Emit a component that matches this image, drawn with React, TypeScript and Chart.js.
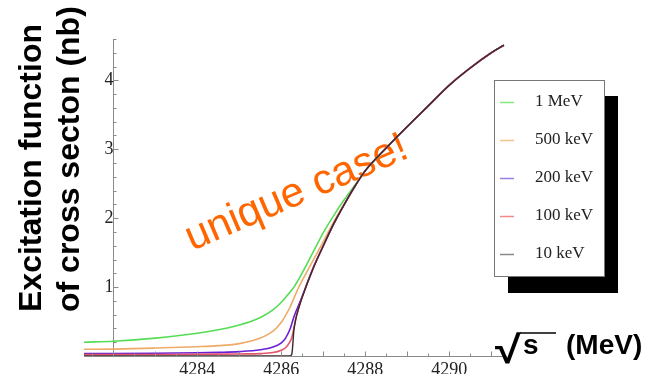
import React, { useEffect, useRef } from 'react';
import { Chart, registerables } from 'chart.js';

Chart.register(...registerables);

// sqrt(s) grid (MeV)
const energyGrid = [
  4281.3, 4282, 4283, 4284, 4284.5, 4285, 4285.5, 4285.8, 4286, 4286.1, 4286.2, 4286.25,
  4286.3, 4286.35, 4286.4, 4286.5, 4286.75, 4287, 4287.25, 4287.5, 4287.75, 4288, 4288.5,
  4289, 4289.5, 4290, 4290.5, 4291, 4291.3,
];

// cross section (nb) for each energy spread
const sigma1MeV = [
  0.2, 0.215, 0.26, 0.33, 0.38, 0.45, 0.56, 0.67, 0.78, 0.85, 0.92, 0.96,
  1.0, 1.05, 1.1, 1.21, 1.5, 1.79, 2.04, 2.27, 2.48, 2.69, 3.02,
  3.33, 3.63, 3.93, 4.18, 4.4, 4.51,
];
const sigma500keV = [
  0.097, 0.1, 0.115, 0.135, 0.15, 0.18, 0.26, 0.36, 0.49, 0.59, 0.7, 0.77,
  0.84, 0.91, 0.98, 1.1, 1.38, 1.66, 1.95, 2.21, 2.46, 2.69, 3.02,
  3.33, 3.63, 3.93, 4.18, 4.4, 4.51,
];
const sigma200keV = [
  0.035, 0.036, 0.04, 0.047, 0.053, 0.063, 0.09, 0.13, 0.19, 0.26, 0.38, 0.47,
  0.57, 0.65, 0.72, 0.87, 1.27, 1.6, 1.92, 2.2, 2.46, 2.69, 3.02,
  3.33, 3.63, 3.93, 4.18, 4.4, 4.51,
];
const sigma100keV = [
  0.02, 0.02, 0.022, 0.025, 0.027, 0.03, 0.035, 0.05, 0.085, 0.12, 0.2, 0.27,
  0.41, 0.56, 0.67, 0.86, 1.26, 1.6, 1.92, 2.2, 2.46, 2.69, 3.02,
  3.33, 3.63, 3.93, 4.18, 4.4, 4.51,
];
const sigma10keV = [
  0, 0, 0, 0, 0, 0, 0, 0, 0, 0, 0, 0.03,
  0.38, 0.55, 0.67, 0.86, 1.26, 1.6, 1.92, 2.2, 2.46, 2.69, 3.02,
  3.33, 3.63, 3.93, 4.18, 4.4, 4.51,
];

const seriesLabels = ['1 MeV', '500 keV', '200 keV', '100 keV', '10 keV'];
const seriesValues = [sigma1MeV, sigma500keV, sigma200keV, sigma100keV, sigma10keV];
const seriesColors = ['#55dd55', '#eeaa66', '#6a1fd6', '#e2546a', '#3a2a2a'];
const legendColors = ['#7fe87f', '#f3c28f', '#9c7fe2', '#f08a8a', '#888888'];

const xTickLabels = [4284, 4286, 4288, 4290];
const yTickLabels = [1, 2, 3, 4];
const xMinorStep = 0.5;
const yMinorStep = 0.2;

const decorPlugin = {
  id: 'decor',
  beforeDatasetsDraw(chart: any) {
    const ctx = chart.ctx;
    ctx.save();
    ctx.translate(192, 251);
    ctx.rotate((-23.3 * Math.PI) / 180);
    ctx.font = '42px "Liberation Sans", Arial, sans-serif';
    ctx.fillStyle = '#ff6600';
    ctx.textAlign = 'left';
    ctx.textBaseline = 'alphabetic';
    ctx.fillText('unique case!', 0, 0);
    ctx.restore();
  },
  afterDraw(chart: any) {
    const ctx = chart.ctx;
    const xs = chart.scales.x;
    const ys = chart.scales.y;
    const axisY = Math.round(ys.getPixelForValue(0)) + 0.5;
    const axisX = Math.round(xs.getPixelForValue(4282)) + 0.5;

    // minor / major ticks, pointing inward
    ctx.save();
    ctx.strokeStyle = '#8a8a8a';
    ctx.lineWidth = 1;
    ctx.beginPath();
    const firstX = Math.ceil(xs.min / xMinorStep);
    const lastX = Math.floor(xs.max / xMinorStep);
    for (let k = firstX; k <= lastX; k++) {
      const r = k * xMinorStep;
      const px = Math.round(xs.getPixelForValue(r)) + 0.5;
      const major = Math.abs(r - Math.round(r)) < 1e-6;
      ctx.moveTo(px, axisY);
      ctx.lineTo(px, axisY - (major ? 5 : 3));
    }
    const nY = Math.round(ys.max / yMinorStep);
    for (let i = 1; i <= nY; i++) {
      const v = i * yMinorStep;
      const py = Math.round(ys.getPixelForValue(v)) + 0.5;
      const major = Math.abs(v - Math.round(v)) < 1e-6;
      ctx.moveTo(axisX, py);
      ctx.lineTo(axisX + (major ? 5 : 3), py);
    }
    ctx.stroke();
    ctx.restore();

    // y title
    const drawRot = (text: string, x: number, y: number) => {
      ctx.save();
      ctx.font = 'bold 32px "Liberation Sans", Arial, sans-serif';
      ctx.fillStyle = '#000';
      ctx.textAlign = 'left';
      ctx.textBaseline = 'alphabetic';
      ctx.translate(x, y);
      ctx.rotate(-Math.PI / 2);
      ctx.fillText(text, 0, 0);
      ctx.restore();
    };
    drawRot('Excitation function', 41, 312);
    drawRot('of cross secton (nb)', 79, 312);

    // x title: sqrt(s) (MeV)
    ctx.save();
    ctx.fillStyle = '#000';
    ctx.textAlign = 'left';
    ctx.textBaseline = 'alphabetic';
    ctx.font = 'bold 40px "Liberation Sans", "DejaVu Sans", sans-serif';
    const m = ctx.measureText('√');
    const gw = Math.max(1, m.actualBoundingBoxLeft + m.actualBoundingBoxRight);
    const gh = Math.max(1, m.actualBoundingBoxAscent + m.actualBoundingBoxDescent);
    ctx.save();
    ctx.translate(495, 332);
    ctx.scale(27 / gw, 32 / gh);
    ctx.fillText('√', m.actualBoundingBoxLeft, m.actualBoundingBoxAscent);
    ctx.restore();
    ctx.font = 'bold 28px "Liberation Sans", Arial, sans-serif';
    ctx.fillText('s', 523, 354);
    ctx.fillText('(MeV)', 566, 354);
    ctx.strokeStyle = '#000';
    ctx.lineWidth = 1.6;
    ctx.beginPath();
    ctx.moveTo(520, 333);
    ctx.lineTo(556, 333);
    ctx.stroke();
    ctx.restore();

    // legend with drop shadow
    ctx.save();
    ctx.fillStyle = '#000';
    ctx.fillRect(508, 96, 110, 197);
    ctx.fillStyle = '#fff';
    ctx.fillRect(494, 80, 110, 197);
    ctx.strokeStyle = '#777';
    ctx.lineWidth = 1;
    ctx.strokeRect(494.5, 80.5, 110, 196);
    ctx.font = '17px "Liberation Serif", "Times New Roman", serif';
    ctx.textAlign = 'left';
    ctx.textBaseline = 'middle';
    chart.data.datasets.forEach((ds: any, i: number) => {
      const yy = 102 + i * 38;
      ctx.strokeStyle = legendColors[i];
      ctx.lineWidth = 1.5;
      ctx.beginPath();
      ctx.moveTo(500, yy + 0.5);
      ctx.lineTo(514, yy + 0.5);
      ctx.stroke();
      ctx.fillStyle = '#222';
      ctx.fillText(ds.label, 535, yy);
    });
    ctx.restore();
  },
};

export default function App() {
  const canvasRef = useRef<HTMLCanvasElement | null>(null);

  useEffect(() => {
    const canvas = canvasRef.current;
    if (!canvas) return;
    const datasets = seriesLabels.map((label, i) => ({
      label,
      data: energyGrid.map((x, j) => ({ x, y: seriesValues[i][j] })),
      borderColor: seriesColors[i],
      backgroundColor: seriesColors[i],
      borderWidth: i === 4 ? 1.4 : 1.6,
      pointRadius: 0,
      fill: false,
      cubicInterpolationMode: 'monotone' as const,
      order: 4 - i,
    }));
    const chart = new Chart(canvas, {
      type: 'line',
      data: { datasets },
      options: {
        responsive: false,
        animation: false,
        devicePixelRatio: 1,
        layout: { padding: { left: 84, top: 39, right: 140, bottom: -10 } },
        plugins: { legend: { display: false }, tooltip: { enabled: false } },
        scales: {
          x: {
            type: 'linear',
            position: 'bottom',
            min: 4281.3,
            max: 4291.35,
            grid: { display: true, drawOnChartArea: false, drawTicks: false },
            border: { display: true, color: '#8a8a8a', width: 1 },
            afterBuildTicks: (s: any) => {
              s.ticks = xTickLabels.map((v) => ({ value: v }));
            },
            ticks: {
              autoSkip: false,
              maxRotation: 0,
              padding: 5,
              color: '#222',
              font: { family: '"Liberation Serif", "Times New Roman", serif', size: 18, lineHeight: 1 },
              callback: (v: any) => String(v),
            },
          },
          y: {
            type: 'linear',
            position: { x: 4282 } as any,
            min: 0,
            max: 4.6,
            grid: { display: true, drawOnChartArea: false, drawTicks: false },
            border: { display: true, color: '#8a8a8a', width: 1 },
            afterBuildTicks: (s: any) => {
              s.ticks = yTickLabels.map((v) => ({ value: v }));
            },
            ticks: {
              autoSkip: false,
              padding: 6,
              color: '#222',
              font: { family: '"Liberation Serif", "Times New Roman", serif', size: 18 },
              callback: (v: any) => String(v),
            },
          },
        },
      },
      plugins: [decorPlugin],
    });
    return () => chart.destroy();
  }, []);

  return (
    <div style={{ position: 'fixed', left: 0, top: 0, width: 646, height: 374, background: '#fff' }}>
      <canvas ref={canvasRef} width={646} height={374} style={{ display: 'block' }} />
    </div>
  );
}
